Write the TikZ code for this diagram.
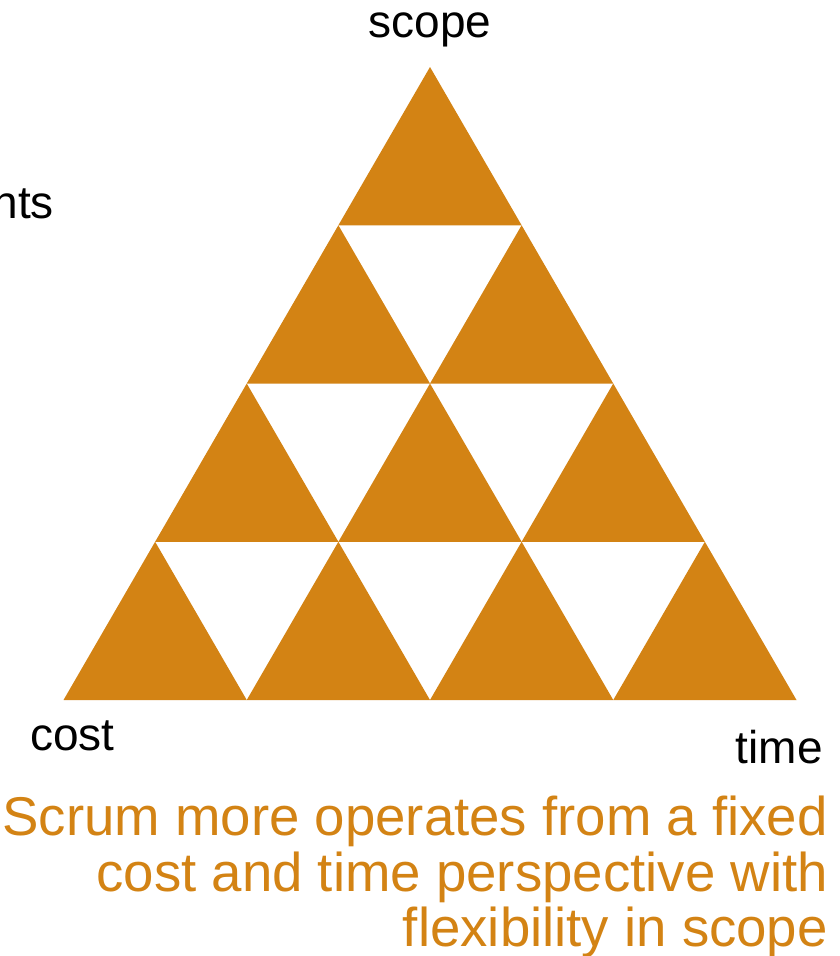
\documentclass[tikz,border=0pt]{standalone}
\usepackage{fontspec}
\setmainfont{Liberation Sans}
\definecolor{ochre}{RGB}{211,131,20}
\begin{document}
\begin{tikzpicture}[x=1pt,y=-1pt,
  label/.style={inner sep=0pt,font=\fontsize{46}{52}\selectfont,text=black},
  caption/.style={inner sep=0pt,font=\fontsize{54.6}{57}\selectfont,text=ochre,anchor=base east},
  tri/.style={fill=ochre,draw=none}]
\useasboundingbox (0,0) rectangle (840,956);
% Sierpinski-like triangle: upward triangles in four rows
\def\rowh{158.25}
\def\halfw{91.625}
\foreach \i in {0,...,3}{
  \foreach \j in {0,...,\i}{
    \pgfmathsetmacro{\ax}{430-\i*\halfw+\j*2*\halfw}
    \pgfmathsetmacro{\ay}{67+\i*\rowh}
    \pgfmathsetmacro{\by}{\ay+\rowh}
    \fill[tri] (\ax,\ay) -- (\ax+\halfw,\by) -- (\ax-\halfw,\by) -- cycle;
  }
}
% corner labels
\node[label,anchor=base] (scope) at (430,37) {scope};
\node[label,anchor=base west] (cost) at (30,750) {cost};
\node[label,anchor=base east] (time) at (823,763) {time};
\node[label,anchor=base east] (nts) at (54,218) {nts};
% caption
\node[caption] (c1) at (828,835) {Scrum more operates from a fixed};
\node[caption] (c2) at (828,891) {cost and time perspective with};
\node[caption] (c3) at (828,946) {flexibility in scope};
\end{tikzpicture}
\end{document}
